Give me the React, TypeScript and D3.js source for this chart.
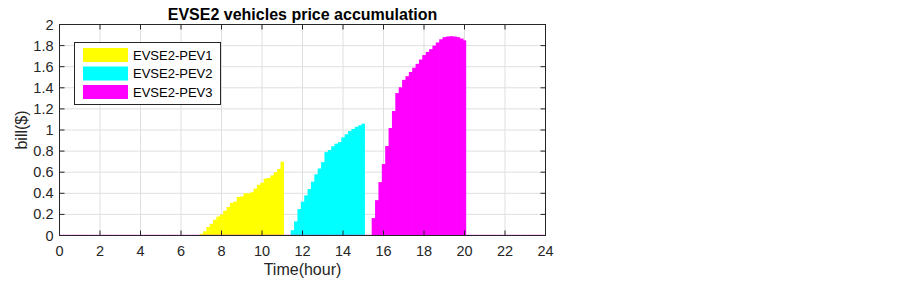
import React from "react";
import * as d3 from "d3";

const seriesNames = ["EVSE2-PEV1", "EVSE2-PEV2", "EVSE2-PEV3"];
const seriesColors = ["#ffff00", "#00ffff", "#ff00ff"];
const seriesStarts = [7.0, 11.5, 15.5];
const stepHours = 1 / 6;

const pev1Values = [0.016, 0.04, 0.08, 0.11, 0.15, 0.18, 0.2, 0.235, 0.27, 0.31, 0.32, 0.365, 0.37, 0.4, 0.4, 0.41, 0.445, 0.48, 0.5, 0.54, 0.545, 0.57, 0.6, 0.63, 0.7];
const pev2Values = [0.05, 0.133, 0.25, 0.32, 0.38, 0.44, 0.51, 0.58, 0.635, 0.695, 0.79, 0.81, 0.845, 0.87, 0.885, 0.93, 0.96, 0.99, 1.01, 1.03, 1.045, 1.06];
const pev3Values = [0.165, 0.335, 0.506, 0.677, 0.848, 1.019, 1.18, 1.35, 1.405, 1.475, 1.51, 1.55, 1.59, 1.627, 1.668, 1.71, 1.74, 1.766, 1.8, 1.83, 1.86, 1.88, 1.886, 1.889, 1.886, 1.88, 1.867, 1.85];

const xTicks = [0, 2, 4, 6, 8, 10, 12, 14, 16, 18, 20, 22, 24];
const yTicks = [0, 0.2, 0.4, 0.6, 0.8, 1, 1.2, 1.4, 1.6, 1.8, 2];

const titleText = "EVSE2 vehicles price accumulation";
const xLabel = "Time(hour)";
const yLabel = "bill($)";

const W = 903;
const H = 281;
const left = 59.5;
const right = 545.5;
const top = 24.5;
const bottom = 235.5;
const FONT = "Arial, 'Liberation Sans', Helvetica, sans-serif";
const AX = "#262626";
const GRID = "#dfdfdf";

export default function App() {
  const x = d3.scaleLinear().domain([0, 24]).range([left, right]);
  const y = d3.scaleLinear().domain([0, 2]).range([bottom, top]);
  const allSeries = [pev1Values, pev2Values, pev3Values];
  const tickLen = 5;

  return (
    <svg width={W} height={H} style={{ position: "absolute", left: 0, top: 0, background: "#fff" }}>
      <rect x={0} y={0} width={W} height={H} fill="#fff" />
      <rect x={left} y={top} width={right - left} height={bottom - top} fill="#fff" />
      {/* grid */}
      {xTicks.map((t) => (
        <line key={"gx" + t} x1={x(t)} x2={x(t)} y1={top} y2={bottom} stroke={GRID} strokeWidth={1} />
      ))}
      {yTicks.map((t) => (
        <line key={"gy" + t} x1={left} x2={right} y1={y(t)} y2={y(t)} stroke={GRID} strokeWidth={1} />
      ))}
      {/* bars */}
      {allSeries.map((vals, si) =>
        vals.map((v, i) => {
          const c = seriesStarts[si] + i * stepHours;
          const x0 = x(c - stepHours / 2);
          const x1 = x(c + stepHours / 2);
          const last = i === vals.length - 1;
          return (
            <rect
              key={"b" + si + "-" + i}
              x={x0}
              y={y(v)}
              width={x1 - x0 + (last ? 0 : 0.7)}
              height={y(0) - y(v)}
              fill={seriesColors[si]}
            />
          );
        })
      )}
      {/* zero-level edges */}
      <line x1={x(0)} x2={x(24)} y1={y(0) - 0.5} y2={y(0) - 0.5} stroke="#ff00ff" strokeOpacity={0.55} strokeWidth={1} strokeDasharray="2 1" />
      {/* axes box */}
      <rect x={left} y={top} width={right - left} height={bottom - top} fill="none" stroke={AX} strokeWidth={1} />
      {xTicks.map((t) => (
        <g key={"tx" + t}>
          <line x1={x(t)} x2={x(t)} y1={bottom} y2={bottom - tickLen} stroke={AX} />
          <line x1={x(t)} x2={x(t)} y1={top} y2={top + tickLen} stroke={AX} />
          <text x={x(t)} y={256} textAnchor="middle" fontFamily={FONT} fontSize={14.5} fill={AX}>
            {String(t)}
          </text>
        </g>
      ))}
      {yTicks.map((t) => (
        <g key={"ty" + t}>
          <line x1={left} x2={left + tickLen} y1={y(t)} y2={y(t)} stroke={AX} />
          <line x1={right} x2={right - tickLen} y1={y(t)} y2={y(t)} stroke={AX} />
          <text x={53.5} y={y(t) + 5} textAnchor="end" fontFamily={FONT} fontSize={14.5} fill={AX}>
            {String(Math.round(t * 10) / 10)}
          </text>
        </g>
      ))}
      {/* title and labels */}
      <text x={(left + right) / 2} y={19.5} textAnchor="middle" fontFamily={FONT} fontSize={16} fontWeight="bold" fill="#000">
        {titleText}
      </text>
      <text x={(left + right) / 2} y={275} textAnchor="middle" fontFamily={FONT} fontSize={16} fill={AX}>
        {xLabel}
      </text>
      <text
        transform={`translate(26.5, ${(top + bottom) / 2}) rotate(-90)`}
        textAnchor="middle"
        fontFamily={FONT}
        fontSize={16}
        fill={AX}
      >
        {yLabel}
      </text>
      {/* legend */}
      <rect x={74.5} y={42.5} width={146} height={62} fill="#fff" stroke={AX} strokeWidth={1} />
      {seriesNames.map((n, i) => {
        const cy = 55 + i * 18.5;
        return (
          <g key={"lg" + i}>
            <rect x={83} y={cy - 7} width={45} height={14} fill={seriesColors[i]} />
            <text x={133} y={cy + 4.7} fontFamily={FONT} fontSize={13} fill="#000">
              {n}
            </text>
          </g>
        );
      })}
    </svg>
  );
}
